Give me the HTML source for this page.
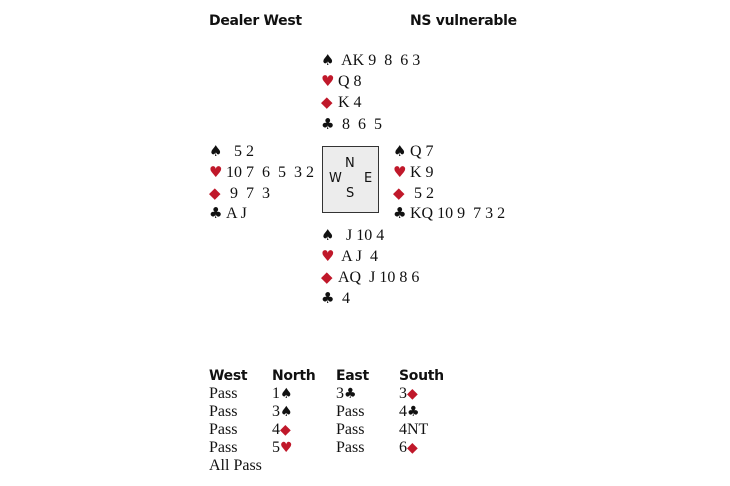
<!DOCTYPE html>
<html><head><style>
body{margin:0;width:730px;height:486px;background:#fff;position:relative;font-family:"Liberation Serif",serif;color:#111;overflow:hidden}
.t{position:absolute;font-size:16px;line-height:18px;white-space:pre;letter-spacing:0}
.h{position:absolute;font-family:"DejaVu Sans","Liberation Sans",sans-serif;font-weight:bold;font-size:14px;line-height:16px;letter-spacing:-0.3px}
.r{color:#c0182a}
.u{font-family:"DejaVu Sans",sans-serif;font-size:15px;display:inline-block;width:17px}
.b{font-family:"DejaVu Sans",sans-serif;font-size:14px}
#box{position:absolute;left:322px;top:146px;width:55px;height:65px;border:1.5px solid #333;background:#ececec}
.c{position:absolute;font-family:"DejaVu Sans",sans-serif;font-size:13px;line-height:14px}
</style></head><body>
<div class="h" style="left:209px;top:13px">Dealer West</div>
<div class="h" style="left:410px;top:13px">NS vulnerable</div>

<div class="t" style="left:321px;top:51px"><span class="u">♠</span> AK 9  8  6 3</div>
<div class="t" style="left:321px;top:72px"><span class="u r">♥</span>Q 8</div>
<div class="t" style="left:321px;top:93px"><span class="u r">◆</span>K 4</div>
<div class="t" style="left:321px;top:115px"><span class="u">♣</span> 8  6  5</div>

<div class="t" style="left:209px;top:142px"><span class="u">♠</span>  5 2</div>
<div class="t" style="left:209px;top:163px"><span class="u r">♥</span>10 7  6  5  3 2</div>
<div class="t" style="left:209px;top:184px"><span class="u r">◆</span> 9  7  3</div>
<div class="t" style="left:209px;top:204px"><span class="u">♣</span>A J</div>

<div id="box"></div>
<div class="c" style="left:345px;top:157px">N</div>
<div class="c" style="left:329px;top:172px">W</div>
<div class="c" style="left:364px;top:172px">E</div>
<div class="c" style="left:346px;top:187px">S</div>

<div class="t" style="left:393px;top:142px"><span class="u">♠</span>Q 7</div>
<div class="t" style="left:393px;top:163px"><span class="u r">♥</span>K 9</div>
<div class="t" style="left:393px;top:184px"><span class="u r">◆</span> 5 2</div>
<div class="t" style="left:393px;top:204px"><span class="u">♣</span>KQ 10 9  7 3 2</div>

<div class="t" style="left:321px;top:226px"><span class="u">♠</span>  J 10 4</div>
<div class="t" style="left:321px;top:247px"><span class="u r">♥</span> A J  4</div>
<div class="t" style="left:321px;top:268px"><span class="u r">◆</span>AQ  J 10 8 6</div>
<div class="t" style="left:321px;top:289px"><span class="u">♣</span> 4</div>

<div class="h" style="left:209px;top:368px">West</div>
<div class="h" style="left:272px;top:368px">North</div>
<div class="h" style="left:336px;top:368px">East</div>
<div class="h" style="left:399px;top:368px">South</div>

<div class="t" style="left:209px;top:385px">Pass</div>
<div class="t" style="left:272px;top:385px">1<span class="b">♠</span></div>
<div class="t" style="left:336px;top:385px">3<span class="b">♣</span></div>
<div class="t" style="left:399px;top:385px">3<span class="b r">◆</span></div>

<div class="t" style="left:209px;top:403px">Pass</div>
<div class="t" style="left:272px;top:403px">3<span class="b">♠</span></div>
<div class="t" style="left:336px;top:403px">Pass</div>
<div class="t" style="left:399px;top:403px">4<span class="b">♣</span></div>

<div class="t" style="left:209px;top:421px">Pass</div>
<div class="t" style="left:272px;top:421px">4<span class="b r">◆</span></div>
<div class="t" style="left:336px;top:421px">Pass</div>
<div class="t" style="left:399px;top:421px">4NT</div>

<div class="t" style="left:209px;top:439px">Pass</div>
<div class="t" style="left:272px;top:439px">5<span class="b r">♥</span></div>
<div class="t" style="left:336px;top:439px">Pass</div>
<div class="t" style="left:399px;top:439px">6<span class="b r">◆</span></div>

<div class="t" style="left:209px;top:457px">All Pass</div>
</body></html>
